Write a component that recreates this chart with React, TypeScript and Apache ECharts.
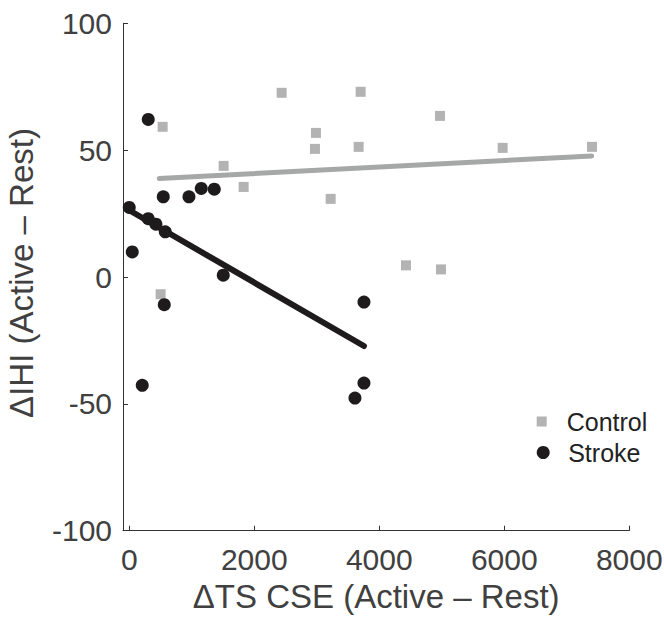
import React, { useEffect, useRef } from "react";
import * as echarts from "echarts";

const controlPoints: [number, number][] = [
  [534, 59.2], [2438, 72.6], [3702, 73.0], [2987, 56.8], [2971, 50.5],
  [3670, 51.3], [1510, 43.8], [1830, 35.5], [3222, 30.8], [502, -6.8],
  [4971, 63.5], [5974, 50.9], [7403, 51.3], [4427, 4.6], [4987, 3.0],
];

const strokePoints: [number, number][] = [
  [304, 62.1], [0, 27.4], [544, 31.6], [955, 31.6], [1152, 34.9],
  [1360, 34.6], [304, 23.0], [427, 20.8], [576, 17.8], [48, 9.9],
  [1504, 0.7], [560, -10.9], [3755, -9.9], [208, -42.7], [3755, -41.8],
  [3611, -47.7],
];

const controlFit: [number, number][] = [[480, 38.8], [7398, 47.7]];
const strokeFit: [number, number][] = [[0, 26.3], [3755, -27.2]];

const xTicks = [0, 2000, 4000, 6000, 8000];
const yTicks = [-100, -50, 0, 50, 100];

const FONT = "'Liberation Sans', Arial, Helvetica, sans-serif";
const CONTROL_COLOR = "#b3b3b3";
const STROKE_COLOR = "#1e1b1c";

export default function App() {
  const ref = useRef<HTMLDivElement>(null);
  useEffect(() => {
    if (!ref.current) return;
    const chart = echarts.init(ref.current, undefined, { renderer: "svg" });
    chart.setOption({
      animation: false,
      backgroundColor: "#ffffff",
      grid: {
        left: 123,
        right: 34.7,
        top: 23.3,
        bottom: 86.3,
        containLabel: false,
        outerBoundsMode: "none",
      },
      xAxis: {
        type: "value",
        min: -100,
        max: 8000,
        name: "ΔTS CSE (Active – Rest)",
        nameLocation: "middle",
        nameGap: 38,
        nameTextStyle: { fontFamily: FONT, fontSize: 33, color: "#404040" },
        axisLine: { show: true, onZero: false, lineStyle: { color: "#333", width: 1 } },
        axisTick: { show: true, inside: true, length: 5, customValues: xTicks, lineStyle: { color: "#333" } },
        axisLabel: {
          customValues: xTicks,
          margin: 14,
          fontFamily: FONT,
          fontSize: 30,
          color: "#404040",
          formatter: (v: number) => String(v),
        },
        splitLine: { show: false },
      },
      yAxis: {
        type: "value",
        min: -100,
        max: 100,
        interval: 50,
        name: "ΔIHI (Active – Rest)",
        nameLocation: "middle",
        nameGap: 85,
        nameRotate: 90,
        nameTextStyle: { fontFamily: FONT, fontSize: 33, color: "#404040", padding: [0, 0, 0, 8] },
        axisLine: { show: true, onZero: false, lineStyle: { color: "#333", width: 1 } },
        axisTick: { show: true, inside: true, length: 5, customValues: yTicks, lineStyle: { color: "#333" } },
        axisLabel: {
          customValues: yTicks,
          margin: 11,
          fontFamily: FONT,
          fontSize: 30,
          color: "#404040",
          formatter: (v: number) => String(v),
        },
        splitLine: { show: false },
      },
      legend: [
        {
          data: [{ name: "Control", icon: "path://M0,0L10,0L10,10L0,10Z" }],
          orient: "vertical",
          left: 531.7,
          top: 404,
          itemWidth: 40,
          itemHeight: 10,
          symbolKeepAspect: true,
          textStyle: { fontFamily: FONT, fontSize: 25, color: "#222" },
        },
        {
          data: [{ name: "Stroke", icon: "circle" }],
          orient: "vertical",
          left: 531.7,
          top: 435,
          itemWidth: 40,
          itemHeight: 13,
          textStyle: { fontFamily: FONT, fontSize: 25, color: "#222" },
        },
      ],
      series: [
        {
          name: "Control",
          type: "scatter",
          symbol: "rect",
          symbolSize: 10,
          itemStyle: { color: CONTROL_COLOR, opacity: 1 },
          data: controlPoints,
        },
        {
          name: "Stroke",
          type: "scatter",
          symbol: "circle",
          symbolSize: 13,
          itemStyle: { color: STROKE_COLOR, opacity: 1 },
          data: strokePoints,
        },
        {
          name: "ControlFit",
          type: "line",
          showSymbol: false,
          symbol: "none",
          lineStyle: { color: "#a6a8a8", width: 5, cap: "round" },
          data: controlFit,
          z: 1,
        },
        {
          name: "StrokeFit",
          type: "line",
          showSymbol: false,
          symbol: "none",
          lineStyle: { color: STROKE_COLOR, width: 6, cap: "round" },
          data: strokeFit,
        },
      ],
    });
    return () => chart.dispose();
  }, []);
  return (
    <div
      ref={ref}
      style={{ position: "fixed", left: 0, top: 0, width: 664, height: 617 }}
    />
  );
}
